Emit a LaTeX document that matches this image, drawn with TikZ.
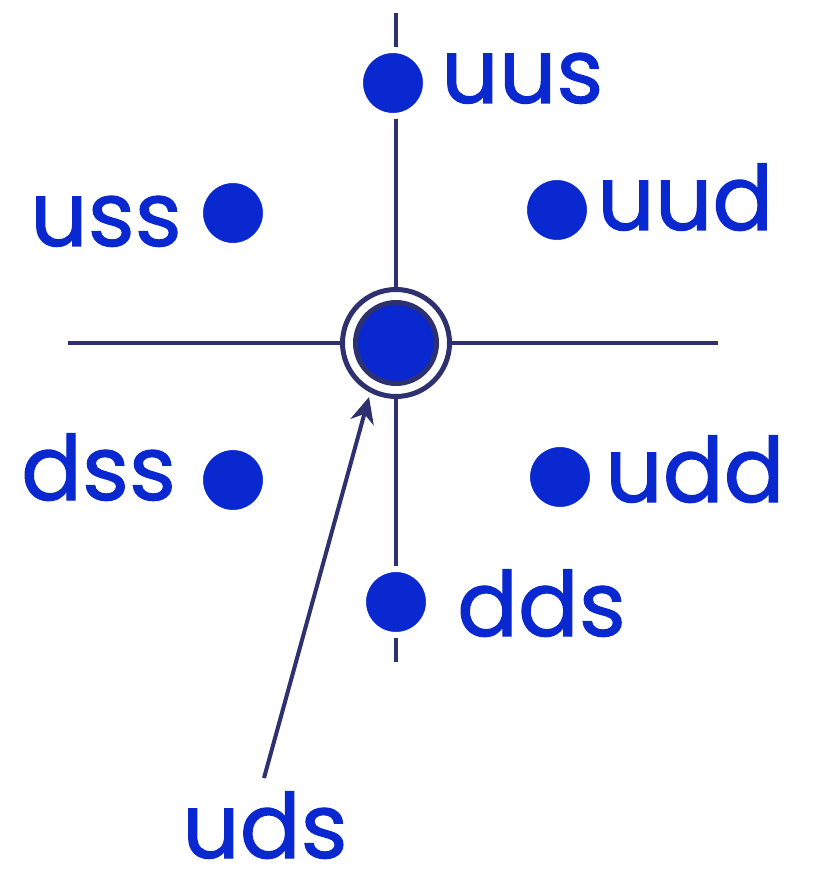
\documentclass[tikz,border=0pt]{standalone}
\usepackage{fontspec}
\setmainfont{Poppins}
\newfontfamily\labfont[FakeBold=1.2]{Poppins}
\usetikzlibrary{arrows.meta}
\definecolor{qblue}{HTML}{0A28D0}
\definecolor{qnavy}{HTML}{2E3170}
\begin{document}
\begin{tikzpicture}[x=1pt,y=-1pt,
  axis/.style={draw=qnavy,line width=4pt},
  dot/.style={circle,fill=qblue,draw=white,line width=6pt,minimum size=66pt,inner sep=0pt},
  lab/.style={text=qblue,font=\labfont\fontsize{90}{100}\selectfont,inner sep=0pt,anchor=base west}]
\useasboundingbox (0,0) rectangle (813,874);
% axes
\coordinate (hl) at (68,343); \coordinate (hr) at (718,343);
\coordinate (vt) at (396,13); \coordinate (vb) at (396,662);
\draw[axis] (hl) -- (hr);
\draw[axis] (vt) -- (vb);
% centre
\node (ctr) [circle,draw=qnavy,fill=white,line width=5pt,minimum size=107pt,inner sep=0pt] at (396,343) {};
\node (ctrin) [circle,draw=qnavy,fill=qblue,line width=5pt,minimum size=81pt,inner sep=0pt] at (396,343) {};
% dots
\node (uus) [dot] at (393,83) {};
\node (uss) [dot] at (233,213) {};
\node (uud) [dot] at (557,210) {};
\node (dss) [dot] at (233,480) {};
\node (udd) [dot] at (560,477) {};
\node (dds) [dot] at (396,602) {};
% labels
\node (tuus) [lab] at (441,103) {uus};
\node (tuss) [lab] at (30,246) {uss};
\node (tuud) [lab] at (597,230) {uud};
\node (tdss) [lab] at (21,500) {dss};
\node (tudd) [lab] at (605,502) {udd};
\node (tdds) [lab] at (457,636) {dds};
\node (tuds) [lab] at (182,858) {uds};
% arrow
\coordinate (atail) at (264,778);
\coordinate (ahead) at (369,397);
\draw[draw=qnavy,line width=4pt,-{Stealth[length=26pt,width=24pt]}] (atail) -- (ahead);
\end{tikzpicture}
\end{document}
